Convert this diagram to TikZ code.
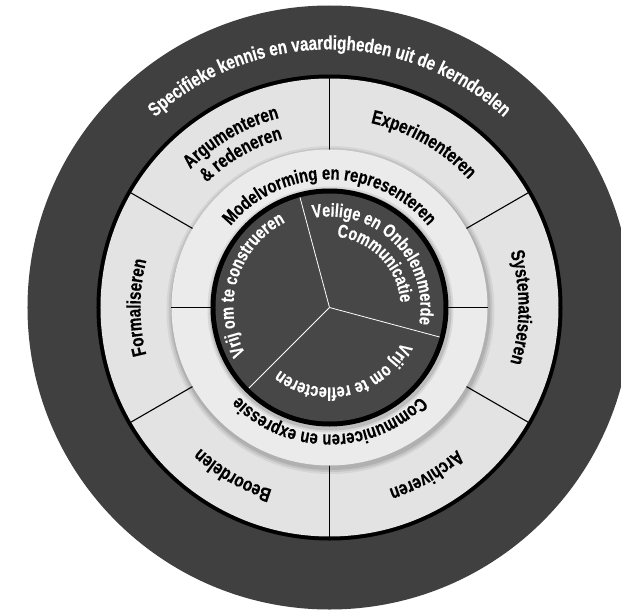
\documentclass[tikz,border=0pt]{standalone}
\usepackage{fontspec}
\setmainfont{Liberation Sans}
\newfontfamily\cf{Liberation Sans}[FakeStretch=0.78,FakeBold=0.4]
\usetikzlibrary{decorations.text}

\definecolor{darkring}{gray}{0.25}
\definecolor{lightring}{gray}{0.89}
\definecolor{midring}{gray}{0.92}
\definecolor{innerdisk}{gray}{0.28}

% #1 baseline radius (pt), #2 middle angle, #3 font size, #4 colour, #5 text
\newcommand\ringtext[5]{%
  \path[decorate,decoration={text along path,text align=center,
    text={|\cf\bfseries\fontsize{#3}{#3}\selectfont\color{#4}|#5}}]
    (#2+80:#1pt) arc[start angle=#2+80,end angle=#2-80,radius=#1pt];}

\tikzset{
  divider/.style={line width=1.1pt,draw=black},
  spoke/.style={line width=0.8pt,draw=white}
}

\begin{document}
\begin{tikzpicture}
\useasboundingbox (-329.5pt,-303.5pt) rectangle (291.5pt,307.5pt);
\clip (-329.5pt,-303.5pt) rectangle (291.5pt,307.5pt);
% outer dark disk
\fill[darkring] (0,0) circle (302pt);
% outer light ring with black rim
\fill[black] (0,0) circle (233pt);
\fill[lightring] (0,0) circle (229pt);
\foreach \a in {90,30,-30,-90,210,150}
  \draw[divider] (\a:156pt) -- (\a:229.5pt);
% shadow of middle ring
\foreach \r/\o in {164/0.06,162/0.08,160/0.1}
  \fill[black,opacity=\o] (1pt,-2.5pt) circle (\r pt);
\fill[midring] (0,0) circle (158pt);
\foreach \a in {0,180}
  \draw[divider] (\a:117pt) -- (\a:158pt);
% inner dark disk
\foreach \r/\o in {123/0.08,121/0.12}
  \fill[black,opacity=\o] (1pt,-2pt) circle (\r pt);
\fill[black] (0,0) circle (119pt);
\fill[innerdisk] (0,0) circle (114pt);
\foreach \a in {105,-15,225}
  \draw[spoke] (0,0) -- (\a:114pt);
% texts
\ringtext{258}{90}{19.5}{white}{Specifieke kennis en vaardigheden uit de kerndoelen}
\ringtext{196}{120}{19.5}{black}{Argumenteren}
\ringtext{175}{120}{19.5}{black}{{\&} redeneren}
\ringtext{189}{60}{19.5}{black}{Experimenteren}
\ringtext{189}{0}{19.5}{black}{Systematiseren}
\ringtext{191}{-60}{19.5}{black}{Archiveren}
\ringtext{191}{-120}{19.5}{black}{Beoordelen}
\ringtext{189}{180}{19.5}{black}{Formaliseren}
\ringtext{128}{90}{19}{black}{Modelvorming en representeren}
\ringtext{127}{-90}{19}{black}{Communiceren en expressie}
\ringtext{96}{163}{18.5}{white}{Vrij om te construeren}
\ringtext{91}{45}{18.5}{white}{Veilige en Onbelemmerde}
\ringtext{71}{44}{18.5}{white}{Communicatie}
\ringtext{80}{283}{18.5}{white}{Vrij om te reflecteren}
\end{tikzpicture}
\end{document}
